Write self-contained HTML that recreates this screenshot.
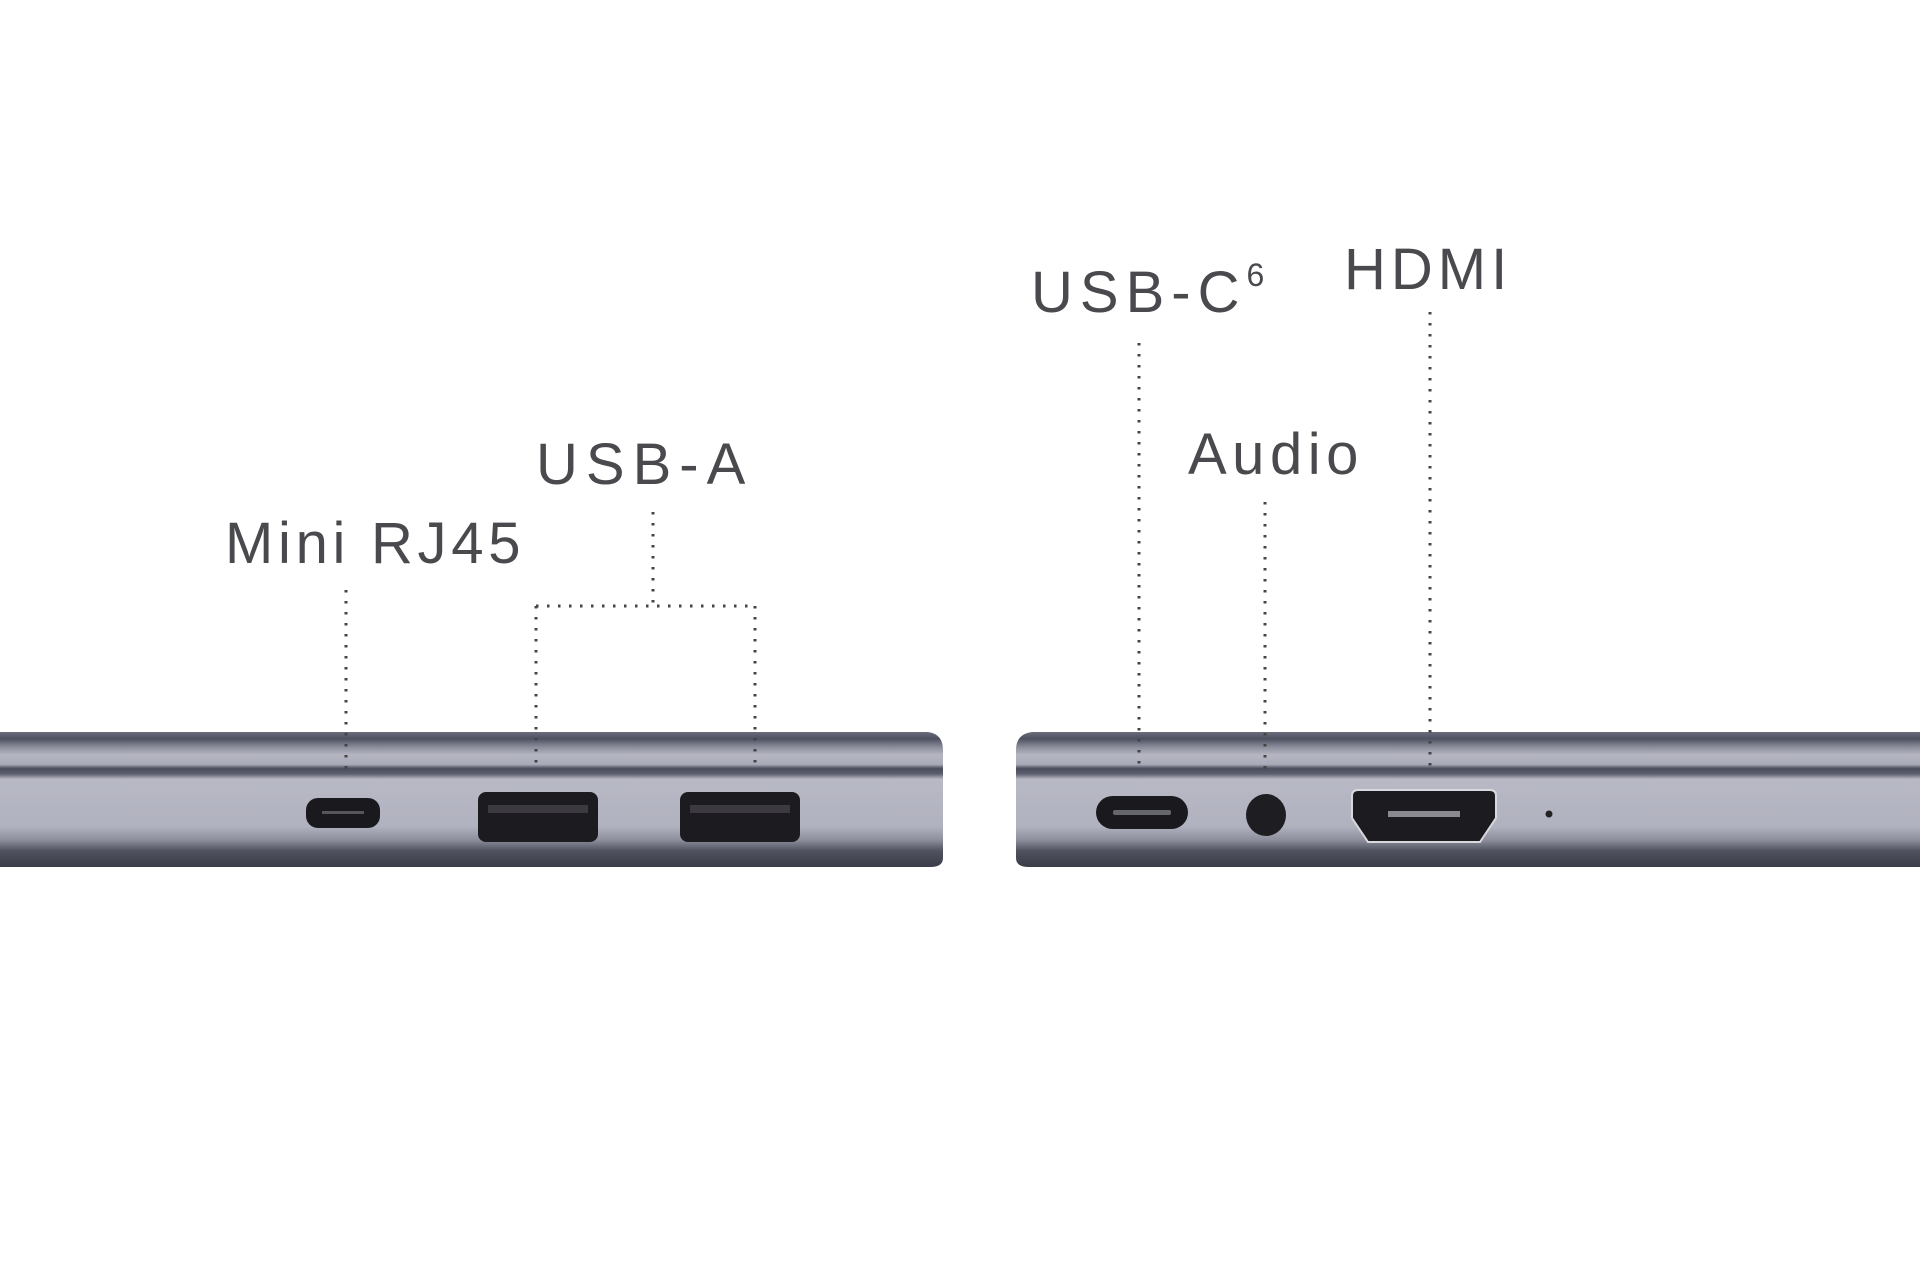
<!DOCTYPE html>
<html><head><meta charset="utf-8"><style>
html,body{margin:0;padding:0;background:#fff;width:1920px;height:1280px;overflow:hidden}
svg{display:block}
text{font-family:"Liberation Sans",sans-serif;fill:#4a4a4e;font-size:58px;letter-spacing:3px}
</style></head><body>
<svg width="1920" height="1280" viewBox="0 0 1920 1280">
<defs>
<linearGradient id="body" x1="0" y1="0" x2="0" y2="1">
<stop offset="0" stop-color="#6a6d7c"/>
<stop offset="0.05" stop-color="#4e5160"/>
<stop offset="0.11" stop-color="#8a8c9a"/>
<stop offset="0.17" stop-color="#b5b6c2"/>
<stop offset="0.24" stop-color="#a9abb8"/>
<stop offset="0.27" stop-color="#4a4d5b"/>
<stop offset="0.31" stop-color="#5c5f6d"/>
<stop offset="0.35" stop-color="#b8b9c5"/>
<stop offset="0.70" stop-color="#b1b2bf"/>
<stop offset="0.80" stop-color="#8c8e9c"/>
<stop offset="0.88" stop-color="#50535f"/>
<stop offset="1" stop-color="#3a3c48"/>
</linearGradient>
</defs>
<path d="M0 732 H928 Q943 734 943 750 V858 Q943 867 930 867 H0 Z" fill="url(#body)"/>
<path d="M1920 732 H1032 Q1016 734 1016 750 V858 Q1016 867 1029 867 H1920 Z" fill="url(#body)"/>
<rect x="306" y="798" width="74" height="30" rx="12" fill="#1a1a1e"/>
<rect x="322" y="811" width="42" height="3" fill="#55555c"/>
<rect x="478" y="792" width="120" height="50" rx="8" fill="#1c1c20"/>
<rect x="488" y="805" width="100" height="8" fill="#3c3a40"/>
<rect x="680" y="792" width="120" height="50" rx="8" fill="#1c1c20"/>
<rect x="690" y="805" width="100" height="8" fill="#3c3a40"/>
<rect x="1096" y="796" width="92" height="33" rx="16.5" fill="#1a1a1e"/>
<rect x="1113" y="810" width="58" height="5" rx="2" fill="#66666d"/>
<ellipse cx="1266" cy="815" rx="20" ry="21" fill="#1e1e22"/>
<path d="M1352 796 Q1352 790 1358 790 H1490 Q1496 790 1496 796 V818 L1480 842 H1368 L1352 818 Z" fill="#1c1c20" stroke="#d8d8de" stroke-width="2"/>
<rect x="1388" y="811" width="72" height="6" fill="#8a8a90"/>
<circle cx="1549" cy="814" r="3.5" fill="#222"/>
<g stroke="#444" stroke-width="3" stroke-dasharray="2.5 8.5" fill="none">
<line x1="346" y1="590" x2="346" y2="771"/>
<line x1="653" y1="512" x2="653" y2="606"/>
<line x1="536" y1="606" x2="755" y2="606"/>
<line x1="536" y1="606" x2="536" y2="771"/>
<line x1="755" y1="606" x2="755" y2="771"/>
<line x1="1139" y1="343" x2="1139" y2="771"/>
<line x1="1265" y1="502" x2="1265" y2="771"/>
<line x1="1430" y1="312" x2="1430" y2="771"/>
</g>
<text x="225" y="563" style="letter-spacing:4.7px">Mini RJ45</text>
<text x="536" y="484" style="letter-spacing:8px">USB-A</text>
<text x="1031" y="312" style="letter-spacing:7px">USB-C<tspan font-size="32" dy="-26">6</tspan></text>
<text x="1344" y="289" style="letter-spacing:5px">HDMI</text>
<text x="1188" y="474" style="letter-spacing:5.5px">Audio</text>
</svg>
</body></html>
